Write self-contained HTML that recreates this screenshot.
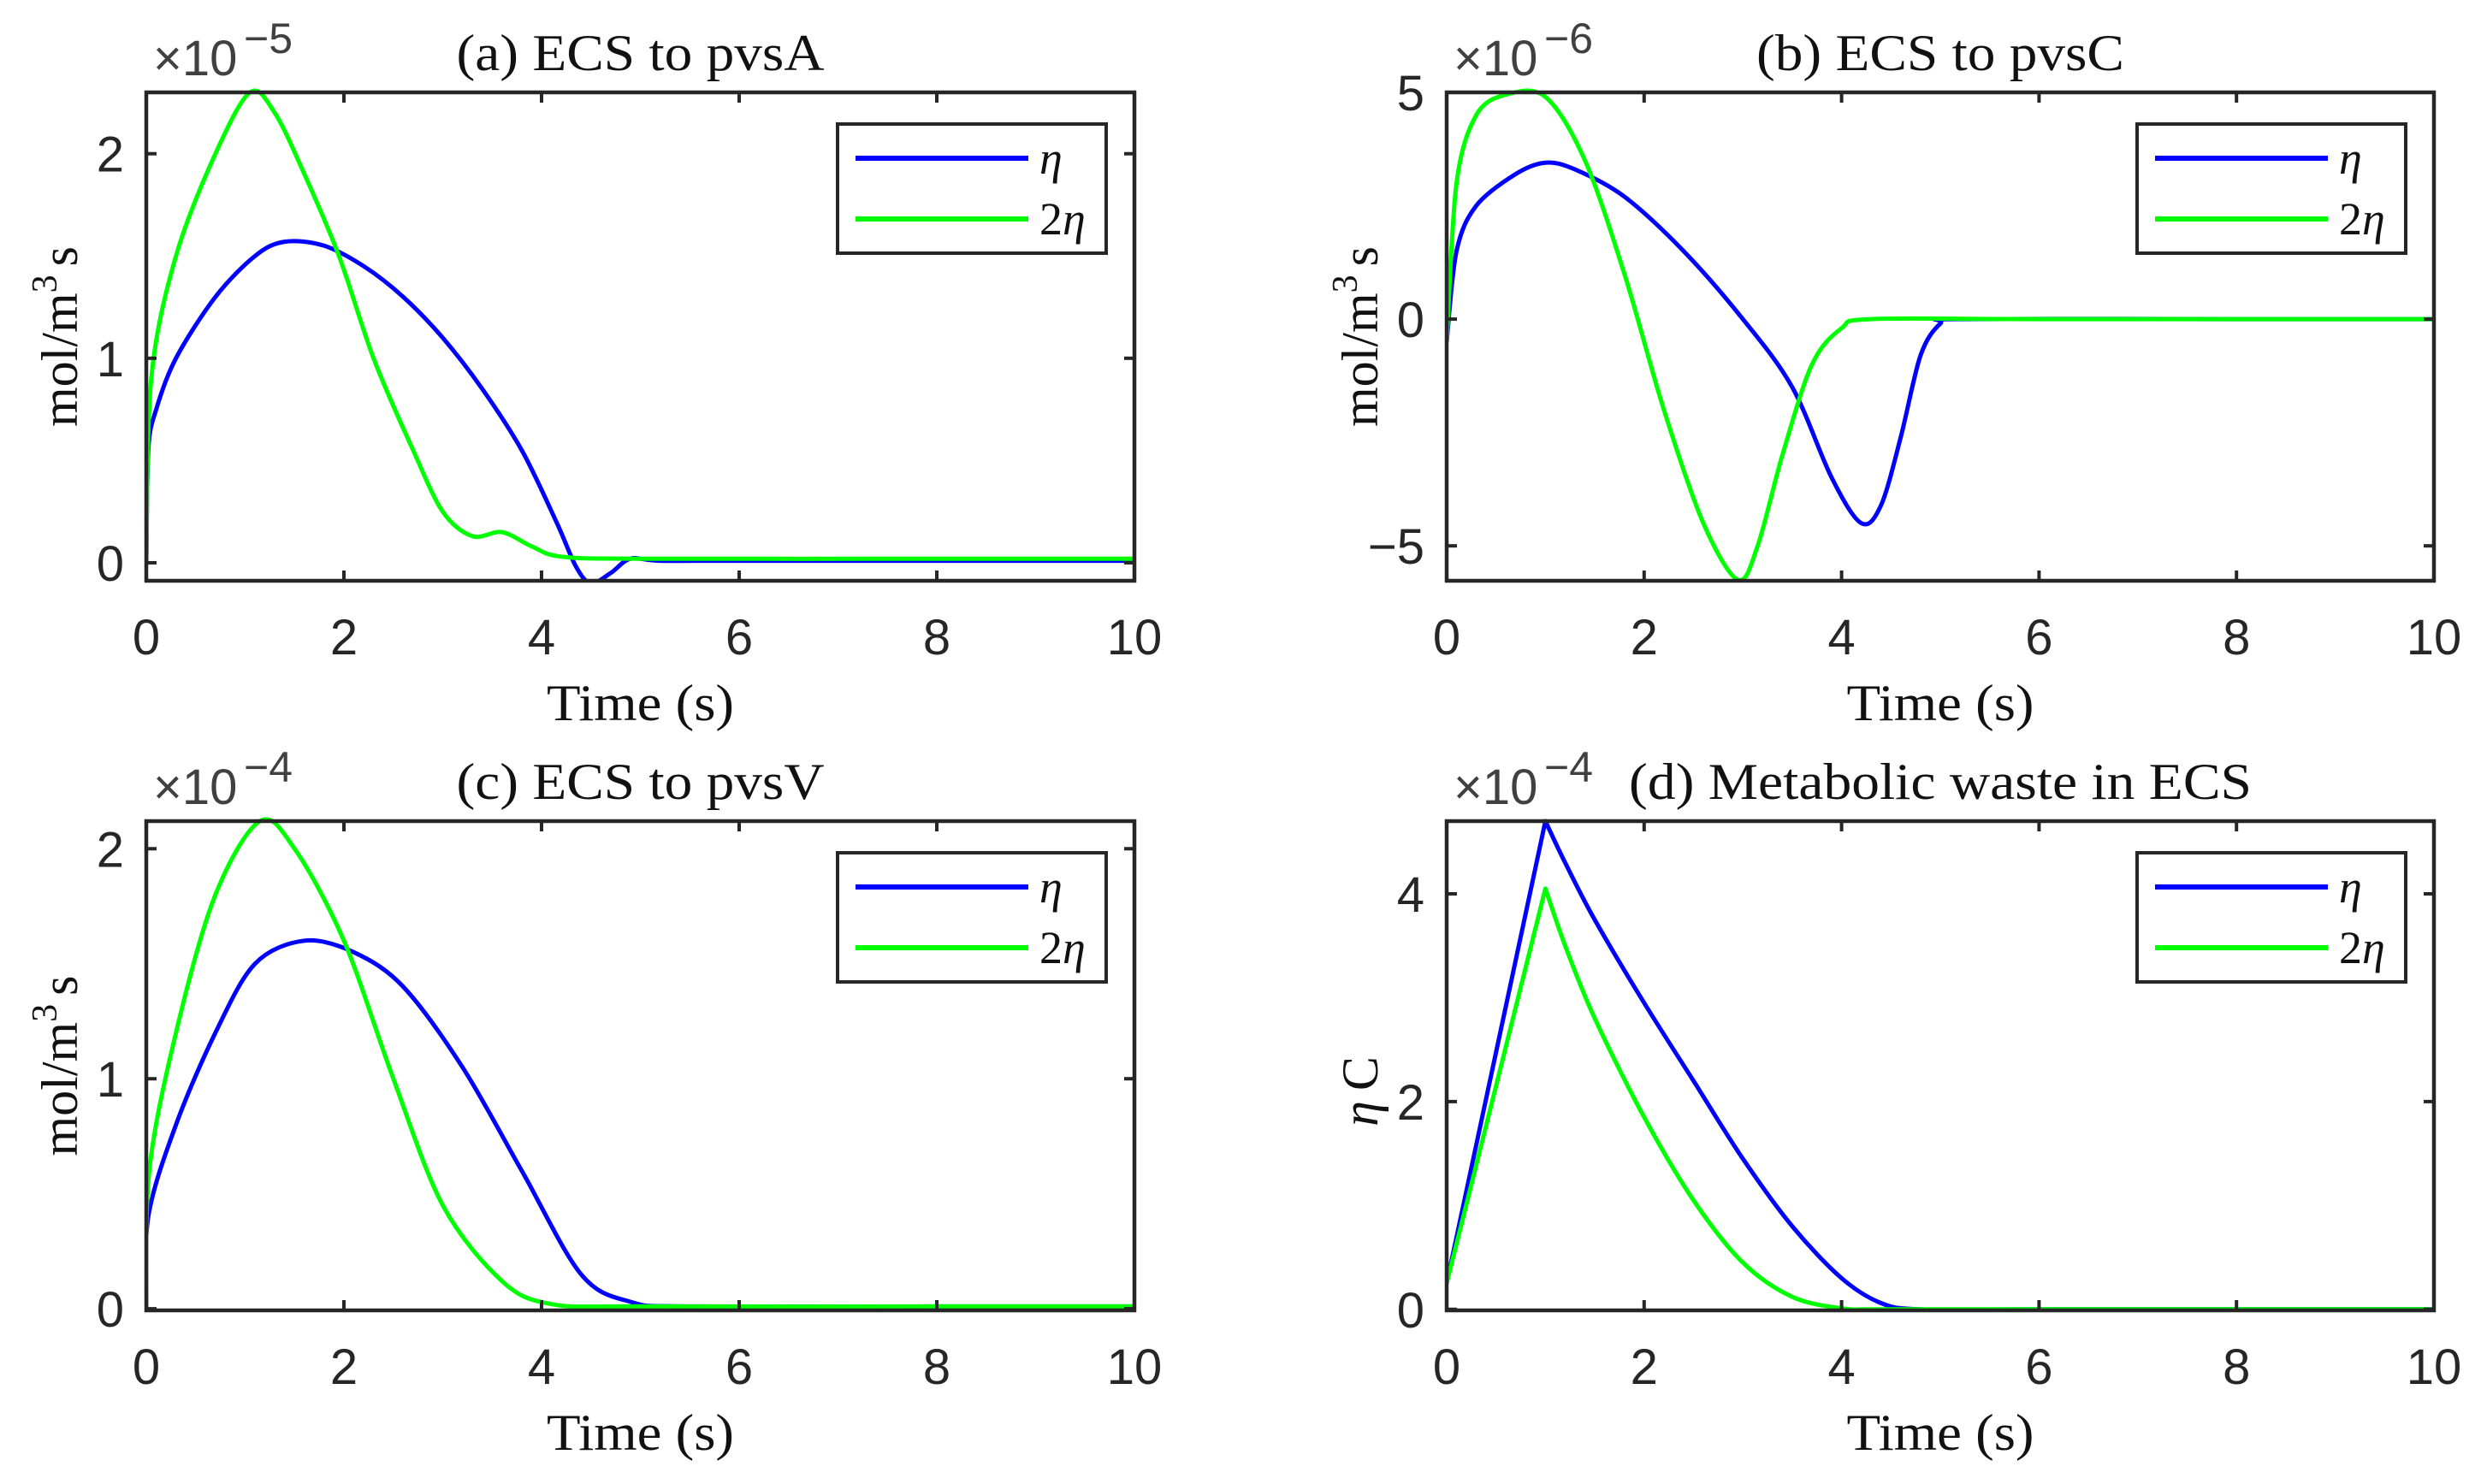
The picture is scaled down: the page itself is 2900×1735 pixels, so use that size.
<!DOCTYPE html>
<html><head><meta charset="utf-8"><style>
html,body{margin:0;padding:0;background:#fff;}
svg{display:block;}
</style></head><body>
<svg id="fig" width="2900" height="1735" viewBox="0 0 2900 1735" xmlns="http://www.w3.org/2000/svg"></svg>
<script>
// ---- data (time in s, values in units of the axis exponent) ----
const aBlueT = [0,0.02,0.1,0.3,0.7,1.1,1.4,1.8,2.2,2.6,3.0,3.4,3.8,4.15,4.35,4.5,4.7,4.9,5.2,6,8,10];
const aBlueV = [0,0.55,0.75,1.0,1.3,1.5,1.57,1.55,1.45,1.3,1.1,0.85,0.55,0.2,-0.02,-0.1,-0.05,0.02,0.01,0.01,0.01,0.01];
const aGreenT = [0,0.05,0.3,0.7,1.05,1.3,1.6,1.95,2.3,2.7,3.0,3.3,3.6,3.9,4.2,5,8,10];
const aGreenV = [0,0.9,1.5,2.0,2.3,2.2,1.9,1.5,1.0,0.55,0.25,0.13,0.15,0.08,0.03,0.02,0.02,0.02];
const bBlueT = [0,0.1,0.3,0.7,1.0,1.3,1.8,2.4,3.0,3.5,3.9,4.2,4.4,4.6,4.8,5.0,5.2,8,10];
const bBlueV = [-0.5,1.5,2.5,3.2,3.45,3.3,2.7,1.5,0,-1.5,-3.5,-4.5,-4.1,-2.6,-0.8,-0.1,0,0,0];
const bGreenT = [0,0.1,0.3,0.6,1.0,1.4,1.8,2.2,2.6,2.95,3.15,3.4,3.7,4.0,4.3,6,10];
const bGreenV = [-0.5,3,4.5,4.95,4.9,3.5,1,-2,-4.5,-5.75,-5,-3,-1,-0.2,0,0,0];
const cBlueT = [0,0.02,0.3,0.7,1.1,1.6,2.1,2.6,3.2,3.8,4.4,4.9,5.5,8,10];
const cBlueV = [0,0.4,0.8,1.2,1.5,1.6,1.55,1.4,1.05,0.6,0.15,0.03,0.01,0.01,0.01];
const cGreenT = [0,0.03,0.3,0.7,1.15,1.5,2.0,2.5,3.0,3.6,4.1,5,8,10];
const cGreenV = [0,0.6,1.2,1.8,2.12,2.0,1.6,1.0,0.45,0.12,0.02,0.01,0.01,0.01];
const dBlueT = [0,1.0,1.2,1.5,2.0,2.5,3.0,3.5,4.0,4.4,4.8,6,10];
const dBlueV = [0.25,4.7,4.3,3.75,2.95,2.2,1.45,0.8,0.3,0.06,0,0,0];
const dGreenT = [0,1.0,1.2,1.5,2.0,2.5,3.0,3.5,4.0,4.4,6,10];
const dGreenV = [0.25,4.05,3.5,2.8,1.85,1.05,0.45,0.12,0.01,0,0,0];
const xTicks = [0,2,4,6,8,10];
const aYTicks = [0,1,2];
const bYTicks = [-5,0,5];
const cYTicks = [0,1,2];
const dYTicks = [0,2,4];

const NS = "http://www.w3.org/2000/svg";
const svg = document.getElementById('fig');
function mk(tag, attrs, parent){const e=document.createElementNS(NS,tag);for(const k in attrs)e.setAttribute(k,attrs[k]);(parent||svg).appendChild(e);return e;}

function pathFrom(pts, corners){
  corners = corners || [];
  let d = `M${pts[0][0].toFixed(1)},${pts[0][1].toFixed(1)}`;
  for(let i=0;i<pts.length-1;i++){
    let p0=pts[Math.max(0,i-1)],p1=pts[i],p2=pts[i+1],p3=pts[Math.min(pts.length-1,i+2)];
    if(corners.includes(i)) p0=p1;
    if(corners.includes(i+1)) p3=p2;
    const t=0.16;
    const c1=[p1[0]+(p2[0]-p0[0])*t,p1[1]+(p2[1]-p0[1])*t];
    const c2=[p2[0]-(p3[0]-p1[0])*t,p2[1]-(p3[1]-p1[1])*t];
    d+=` C${c1[0].toFixed(1)},${c1[1].toFixed(1)} ${c2[0].toFixed(1)},${c2[1].toFixed(1)} ${p2[0].toFixed(1)},${p2[1].toFixed(1)}`;
  }
  return d;
}

function panel(o){
  const g = mk('g',{});
  
  
  const xs = v => o.x0 + (v-0)/(10-0)*(o.x1-o.x0);
  const ys = v => o.y1 - (v-o.ymin)/(o.ymax-o.ymin)*(o.y1-o.y0);
  const cid='clip-'+o.name;
  const cp=mk('clipPath',{id:cid},g); mk('rect',{x:o.x0,y:o.y0-6,width:o.x1-o.x0,height:o.y1-o.y0+8},cp);
  o.series.forEach(s=>{
    const pts=s.t.map((t,i)=>[xs(t),ys(s.v[i])]);
    const p=mk('path',{d:pathFrom(pts,o.corners),fill:'none',stroke:s.color,'stroke-width':5,'stroke-linejoin':'round','clip-path':`url(#${cid})`},g);
    
    
  });
  const box=mk('rect',{x:o.x0,y:o.y0,width:o.x1-o.x0,height:o.y1-o.y0,fill:'none',stroke:'#262626','stroke-width':4.5},g);
  
  
  xTicks.forEach(v=>{
    const x=xs(v);
    mk('line',{x1:x,y1:o.y1,x2:x,y2:o.y1-12,stroke:'#262626','stroke-width':4},g);
    mk('line',{x1:x,y1:o.y0,x2:x,y2:o.y0+12,stroke:'#262626','stroke-width':4},g);
    const t=mk('text',{x:x,y:o.y1+86,'text-anchor':'middle','font-family':'Liberation Sans, sans-serif','font-size':58,fill:'#262626'},g);
    t.textContent=v;
    
    
  });
  o.yticks.forEach(v=>{
    const y=ys(v);
    mk('line',{x1:o.x0,y1:y,x2:o.x0+12,y2:y,stroke:'#262626','stroke-width':4},g);
    mk('line',{x1:o.x1,y1:y,x2:o.x1-12,y2:y,stroke:'#262626','stroke-width':4},g);
    const t=mk('text',{x:o.x0-26,y:y+21,'text-anchor':'end','font-family':'Liberation Sans, sans-serif','font-size':58,fill:'#262626'},g);
    t.textContent=v<0?'\u2212'+Math.abs(v):v;
    
    
  });
  const ex=mk('text',{x:o.x0+8,y:o.y0-20,'font-family':'Liberation Sans, sans-serif','font-size':58,fill:'#404040'},g);
  ex.textContent='\u00d710';
  
  
  const ex2=mk('text',{x:o.x0+114,y:o.y0-46,'font-family':'Liberation Sans, sans-serif','font-size':50,fill:'#404040'},g);
  ex2.textContent=o.exp;
  
  
  const cx=(o.x0+o.x1)/2;
  const ti=mk('text',{x:cx,y:o.y0-26,'text-anchor':'middle','font-family':'Liberation Serif, serif','font-size':60,fill:'#111',textLength:o.titleW,lengthAdjust:'spacingAndGlyphs'},g);
  ti.textContent=o.title;
  
  
  const xl=mk('text',{x:cx,y:o.y1+163,'text-anchor':'middle','font-family':'Liberation Serif, serif','font-size':60,fill:'#111',textLength:219,lengthAdjust:'spacingAndGlyphs'},g);
  xl.textContent='Time (s)';
  
  
  const ycy=(o.y0+o.y1)/2;
  const yl=mk('text',{x:0,y:0,'text-anchor':'middle','font-family':'Liberation Serif, serif','font-size':60,fill:'#111',transform:`translate(${o.x0-81},${ycy+o.ylOff}) rotate(-90)`},g);
  
  
  if(o.ylab==='mol'){
    const a=mk('tspan',{},yl); a.textContent='mol/m';
    const b=mk('tspan',{dy:-24,'font-size':42},yl); b.textContent='3';
    const c=mk('tspan',{dy:24,dx:10},yl); c.textContent='s';
  } else {
    const a=mk('tspan',{'font-style':'italic'},yl); a.textContent='η';
    const c=mk('tspan',{dx:12},yl); c.textContent='C';
  }
  const lx=o.x1-347, ly=o.y0+37;
  const lg=mk('g',{},g);
  
  
  mk('rect',{x:lx,y:ly,width:314,height:151,fill:'#fff',stroke:'#262626','stroke-width':4},lg);
  o.series.forEach((s,i)=>{
    const yy=ly+40+i*71;
    const e=mk('g',{},lg);
    
    
    mk('line',{x1:lx+21,y1:yy,x2:lx+223,y2:yy,stroke:s.color,'stroke-width':6},e);
    const t=mk('text',{x:lx+236,y:yy+18,'font-family':'Liberation Serif, serif','font-size':54,fill:'#111'},e);
    if(i===0){const a=mk('tspan',{'font-style':'italic'},t);a.textContent='η';}
    else{const a=mk('tspan',{},t);a.textContent='2';const b=mk('tspan',{'font-style':'italic'},t);b.textContent='η';}
  });
}

const BLUE='#0000ff', GREEN='#00ff00';
panel({name:'panel-a',x0:171,x1:1326,y0:108,y1:679,ymin:-0.088,ymax:2.30,yticks:aYTicks,exp:'\u22125',title:'(a) ECS to pvsA',titleW:430,ylab:'mol',ylOff:0,corners:[0],
  series:[{name:'series-eta',t:aBlueT,v:aBlueV,color:BLUE},{name:'series-2eta',t:aGreenT,v:aGreenV,color:GREEN}]});
panel({name:'panel-b',x0:1691,x1:2845,y0:108,y1:679,ymin:-5.77,ymax:5.0,yticks:bYTicks,exp:'\u22126',title:'(b) ECS to pvsC',titleW:430,ylab:'mol',ylOff:0,corners:[0],
  series:[{name:'series-eta',t:bBlueT,v:bBlueV,color:BLUE},{name:'series-2eta',t:bGreenT,v:bGreenV,color:GREEN}]});
panel({name:'panel-c',x0:171,x1:1326,y0:960,y1:1532,ymin:-0.007,ymax:2.12,yticks:cYTicks,exp:'\u22124',title:'(c) ECS to pvsV',titleW:430,ylab:'mol',ylOff:0,corners:[0],
  series:[{name:'series-eta',t:cBlueT,v:cBlueV,color:BLUE},{name:'series-2eta',t:cGreenT,v:cGreenV,color:GREEN}]});
panel({name:'panel-d',x0:1691,x1:2845,y0:960,y1:1532,ymin:-0.01,ymax:4.70,yticks:dYTicks,exp:'\u22124',title:'(d) Metabolic waste in ECS',titleW:728,ylab:'eta',ylOff:30,corners:[0,1],
  series:[{name:'series-eta',t:dBlueT,v:dBlueV,color:BLUE},{name:'series-2eta',t:dGreenT,v:dGreenV,color:GREEN}]});
</script>
</body></html>
